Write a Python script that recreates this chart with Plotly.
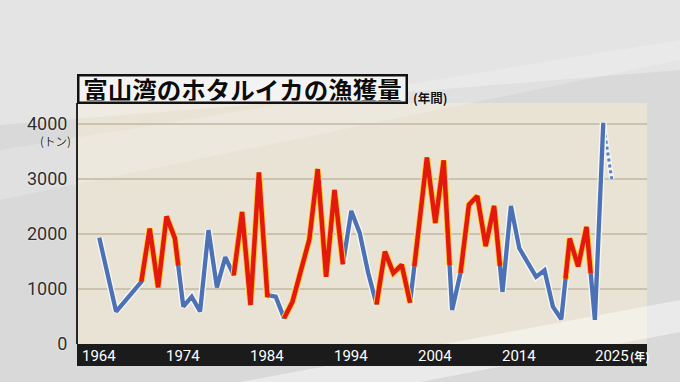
import numpy as np
import plotly.graph_objects as go

# ---- data ----
years = [1964, 1966, 1969, 1970, 1971, 1972, 1973, 1974, 1975, 1976, 1977, 1978,
         1979, 1980, 1981, 1982, 1983, 1984, 1985, 1986, 1987, 1989, 1990, 1991,
         1992, 1993, 1994, 1995, 1996, 1997, 1998, 1999, 2000, 2001, 2003, 2004,
         2005, 2006, 2007, 2008, 2009, 2010, 2011, 2012, 2013, 2014, 2016, 2017,
         2018, 2019, 2020, 2021, 2022, 2023, 2024]
catch = [1930, 590, 1130, 2100, 1030, 2320, 1920, 680, 860, 590, 2070, 1030,
         1580, 1250, 2400, 710, 3120, 890, 860, 470, 770, 1900, 3180, 1220,
         2800, 1450, 2420, 2020, 1300, 720, 1680, 1290, 1440, 750, 3390, 2200,
         3340, 620, 1290, 2530, 2690, 1780, 2510, 950, 2510, 1740, 1220, 1340,
         680, 450, 1920, 1410, 2130, 440, 4020]
# 2025 (provisional, dotted)
latest_year = [2024, 2025]
latest_catch = [4020, 3000]
# highlighted (red) periods, in years
red_periods = [(1969, 1973.4), (1980, 1984.3), (1986, 1993), (1997, 2001),
               (2001.5, 2005.7), (2007, 2011.7), (2019.5, 2022.5)]

y_ticks = [0, 1000, 2000, 3000, 4000]
y_ticktext = ["0", "1000", "2000", "3000", "4000"]
x_labels = [1964, 1974, 1984, 1994, 2004, 2014, 2025]

title_text = "富山湾のホタルイカの漁獲量"

# ---- geometry helpers (style only) ----
W, H = 680, 382
L, R, T, B = 78, 33, 103, 38
PW, PH = W - L - R, H - T - B


def px(xp):
    return (xp - L) / PW


def py(yp):
    return (H - B - yp) / PH


BLUE = "#4c71b4"
RED = "#e2190c"
YEL = "#ffc83a"
NUMFONT = "Roboto, Liberation Sans, sans-serif"

fig = go.Figure()

# dotted provisional segment
fig.add_trace(go.Scatter(x=latest_year, y=latest_catch, mode="lines",
                         line=dict(color="#f2f2f2", width=5.5), hoverinfo="skip"))
fig.add_trace(go.Scatter(x=latest_year, y=latest_catch, mode="lines",
                         line=dict(color="#5b80c0", width=3, dash="dot"), hoverinfo="skip"))
# blue line with white outline
fig.add_trace(go.Scatter(x=years, y=catch, mode="lines",
                         line=dict(color="#f7f7f7", width=7), hoverinfo="skip"))
fig.add_trace(go.Scatter(x=years, y=catch, mode="lines",
                         line=dict(color=BLUE, width=4.3), hoverinfo="skip"))

yr = np.array(years, dtype=float)
vals = np.array(catch, dtype=float)
segs = []
for a, b in red_periods:
    xs = [a] + [v for v in years if a < v < b] + [b]
    ys = list(np.interp(xs, yr, vals))
    segs.append((xs, ys))
for xs, ys in segs:
    fig.add_trace(go.Scatter(x=xs, y=ys, mode="lines",
                             line=dict(color=YEL, width=6.6), hoverinfo="skip"))
for xs, ys in segs:
    fig.add_trace(go.Scatter(x=xs, y=ys, mode="lines",
                             line=dict(color=RED, width=4.5), hoverinfo="skip"))

x0 = 1970 - 71.7 / 8.4
x1 = x0 + PW / 8.4
y1 = (H - B - T) / 55 * 1000

shapes = [
    # background light streaks
    dict(type="path", xref="paper", yref="paper", layer="below",
         path=f"M {px(0)},{py(0)} L {px(680)},{py(0)} L {px(680)},{py(70)} L {px(0)},{py(125)} Z",
         fillcolor="rgba(255,255,255,0.30)", line=dict(width=0)),
    dict(type="path", xref="paper", yref="paper", layer="below",
         path=f"M {px(0)},{py(150)} L {px(680)},{py(40)} L {px(680)},{py(60)} L {px(0)},{py(200)} Z",
         fillcolor="rgba(255,255,255,0.18)", line=dict(width=0)),
    dict(type="path", xref="paper", yref="paper", layer="below",
         path=f"M {px(240)},{py(382)} L {px(680)},{py(300)} L {px(680)},{py(332)} L {px(420)},{py(382)} Z",
         fillcolor="rgba(255,255,255,0.45)", line=dict(width=0)),
    # dark x-axis band
    dict(type="rect", xref="paper", yref="paper", x0=px(77), x1=px(647),
         y0=py(366), y1=py(344), fillcolor="#1b1b1b", line=dict(width=0)),
]

annotations = []
for yv in x_labels:
    annotations.append(dict(x=yv, y=py(355.5), xref="x", yref="paper",
                            text=str(yv), showarrow=False, xanchor="center", yanchor="middle",
                            font=dict(family=NUMFONT, size=15, color="#ffffff")))
annotations.append(dict(x=px(628), y=py(356), xref="paper", yref="paper",
                        text="(年)", showarrow=False, xanchor="left", yanchor="middle",
                        font=dict(family="Noto Sans CJK JP", size=11, color="#ffffff",
                                  weight="bold")))
annotations.append(dict(x=px(242.5), y=py(88.5), xref="paper", yref="paper",
                        text=title_text, showarrow=False, xanchor="center", yanchor="middle",
                        width=324, height=23, borderpad=1, borderwidth=2.5,
                        bordercolor="#111111", bgcolor="#f3f3f3",
                        font=dict(family="Noto Sans CJK JP", size=24.5, color="#0c0c0c",
                                  weight="bold", shadow="0px 0px 2px #ffffff")))
annotations.append(dict(x=px(411), y=py(97), xref="paper", yref="paper",
                        text="(年間)", showarrow=False, xanchor="left", yanchor="middle",
                        font=dict(family="Noto Sans CJK JP", size=12.5, color="#111111",
                                  weight="bold", shadow="0px 0px 2px #ffffff")))
annotations.append(dict(x=px(73), y=py(141), xref="paper", yref="paper",
                        text="(トン)", showarrow=False, xanchor="right", yanchor="middle",
                        font=dict(family="Noto Sans CJK JP", size=11.5, color="#2b2b2b",
                                  shadow="0px 0px 2px #ffffff")))

fig.update_layout(
    width=W, height=H, autosize=False,
    margin=dict(l=L, r=R, t=T, b=B, pad=0),
    paper_bgcolor="#d9d9d9",
    plot_bgcolor="#e9e3d6",
    showlegend=False,
    shapes=shapes,
    annotations=annotations,
    xaxis=dict(range=[x0, x1], showgrid=False, zeroline=False, showticklabels=False,
               ticks="", showline=False, fixedrange=True),
    yaxis=dict(range=[0, y1], tickvals=y_ticks, ticktext=y_ticktext,
               showgrid=True, gridcolor="#cbc2b0", gridwidth=1.5, zeroline=False,
               showline=True, linecolor="#262626", linewidth=2, ticks="",
               ticklabelstandoff=5,
               tickfont=dict(family=NUMFONT, size=18, color="#2e2e2e",
                             shadow="0px 0px 2px #ffffff"),
               fixedrange=True),
)

fig.write_html("out.html", config={"displayModeBar": False},
               post_script="document.body.style.margin='0px';document.body.style.overflow='hidden';")
